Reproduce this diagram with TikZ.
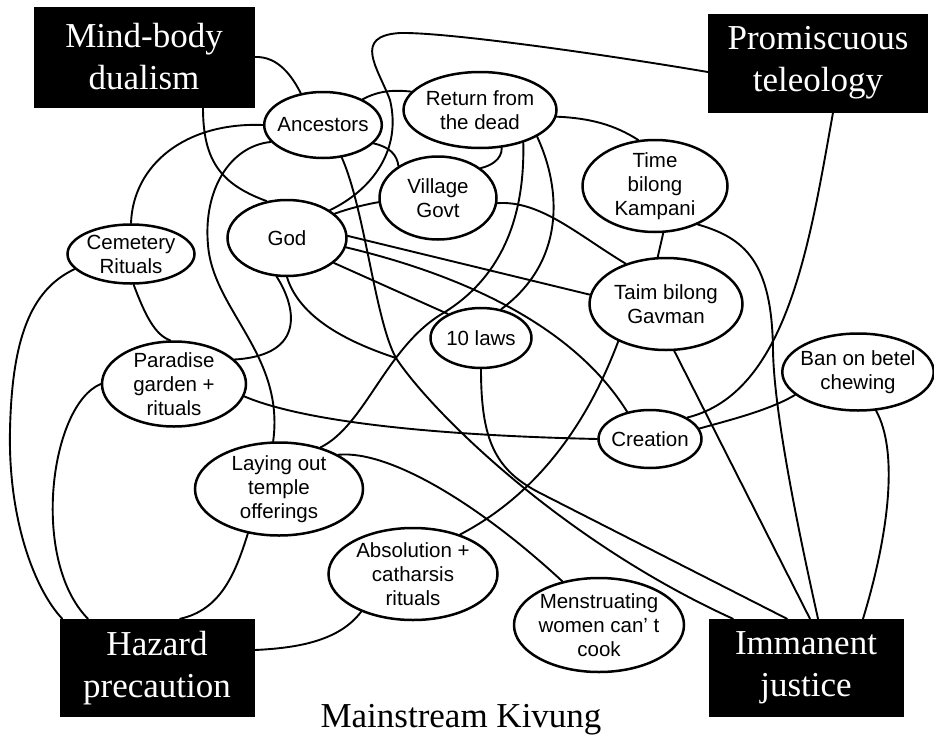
\documentclass[tikz,border=0pt]{standalone}
\usepackage{fontspec}
\setmainfont{Liberation Serif}
\setsansfont{Liberation Sans}
\usetikzlibrary{shapes.geometric}

\tikzset{
  idea/.style={draw, ellipse, line width=2.5pt, inner sep=-4pt, align=center,
    font=\sffamily\fontsize{20.5}{24}\selectfont},
  bigbox/.style={rectangle, fill=black, text=white, inner sep=0pt, align=center,
    font=\fontsize{35}{42}\selectfont},
  link/.style={line width=1.9pt, line cap=round},
}

\begin{document}
\begin{tikzpicture}[x=1pt,y=-1pt]
	\useasboundingbox (0,0) rectangle (934,736);
	% Black boxes
	\node[bigbox, minimum width=221pt, minimum height=101pt] (mind) at (144,57) {Mind-body\\dualism};
	\node[bigbox, minimum width=220pt, minimum height=99pt] (prom) at (818,63) {Promiscuous\\teleology};
	\node[bigbox, minimum width=195pt, minimum height=98pt] (haz) at (157,668) {Hazard\\precaution};
	\node[bigbox, minimum width=195pt, minimum height=98pt] (imm) at (806,668) {Immanent\\justice};
	% Ideas
	\node[idea, minimum width=106pt, minimum height=66pt] (anc) at (323,125) {Ancestors};
	\node[idea, minimum width=153pt, minimum height=76pt] (ret) at (480,110) {Return from\\the dead};
	\node[idea, minimum width=117pt, minimum height=83pt] (vil) at (438,198) {Village\\Govt};
	\node[idea, minimum width=119pt, minimum height=76pt] (god) at (287,238) {God};
	\node[idea, minimum width=145pt, minimum height=92pt] (time) at (655,186) {Time\\bilong\\Kampani};
	\node[idea, minimum width=153pt, minimum height=92pt] (taim) at (666,304) {Taim bilong\\Gavman};
	\node[idea, minimum width=127pt, minimum height=59pt] (cem) at (131,254) {Cemetery\\Rituals};
	\node[idea, minimum width=101pt, minimum height=60pt] (laws) at (481,338) {10 laws};
	\node[idea, minimum width=144pt, minimum height=85pt] (par) at (174,384) {Paradise\\garden +\\rituals};
	\node[idea, minimum width=150pt, minimum height=77pt] (ban) at (858,372) {Ban on betel\\chewing};
	\node[idea, minimum width=103pt, minimum height=58pt] (cre) at (650,439) {Creation};
	\node[idea, minimum width=168pt, minimum height=93pt] (lay) at (279,489) {Laying out\\temple\\offerings};
	\node[idea, minimum width=169pt, minimum height=92pt] (abs) at (413,574) {Absolution +\\catharsis\\rituals};
	\node[idea, minimum width=170pt, minimum height=94pt] (men) at (599,625) {Menstruating\\women can’ t\\cook};
	\node[font=\fontsize{35}{40}\selectfont, anchor=base] (title) at (461,727) {Mainstream Kivung};
	\coordinate (jn) at (396,358);
	% Mind-body dualism
	\draw[link] (mind.east) .. controls (278,56) and (292,76) .. (anc.125);
	\draw[link] ([xshift=59pt]mind.south) .. controls (203,160) and (220,184) .. (god.119);
	% Promiscuous teleology
	\draw[link] (god.33) .. controls (372,190) and (402,150) .. (390,100) .. controls (378,68) and (352,36) .. (400,33) .. controls (450,32) and (620,57) .. ([yshift=-9pt]prom.west);
	\draw[link] ([xshift=15pt]prom.south) .. controls (810,240) and (788,393) .. (cre.30);
	% Ancestors
	\draw[link] (anc.33) .. controls (380,90) and (395,90) .. (ret.165);
	\draw[link] (anc.180) .. controls (185,122) and (133,165) .. (cem.north);
	\draw[link] (anc.198) .. controls (230,146) and (203,190) .. (208,245) .. controls (213,310) and (285,355) .. (lay.97);
	\draw[link] (anc.340) .. controls (390,147) and (397,155) .. (vil.141);
	\draw[link] (anc.300) .. controls (365,210) and (375,320) .. (jn) .. controls (430,410) and (560,540) .. ([xshift=-73pt]imm.north);
	% God
	\draw[link] (god.27) .. controls (350,208) and (368,204) .. (vil.184);
	\draw[link] (god.2) -- (taim.173);
	\draw[link] (god.351) .. controls (450,272) and (570,320) .. (cre.130);
	\draw[link] (god.332) -- (laws.144);
	\draw[link] (god.255) .. controls (295,305) and (308,355) .. (par.22);
	\draw[link] (god.270) .. controls (298,312) and (335,338) .. (jn);
	% Return from the dead
	\draw[link] (ret.300) .. controls (502,160) and (490,166) .. (vil.35);
	\draw[link] (ret.323) .. controls (525,220) and (500,280) .. (440,315) .. controls (385,350) and (365,425) .. (lay.45);
	\draw[link] (ret.335) .. controls (562,190) and (565,262) .. (laws.55);
	\draw[link] (ret.355) .. controls (590,118) and (615,125) .. (time.110);
	% Village Govt
	\draw[link] (vil.355) .. controls (540,200) and (578,235) .. (taim.135);
	% Time bilong Kampani
	\draw[link] (time.280) -- (taim.100);
	\draw[link] (time.318) .. controls (745,238) and (772,262) .. (773,350) .. controls (774,420) and (805,560) .. ([xshift=12pt]imm.north);
	% Taim bilong Gavman
	\draw[link] (taim.218) .. controls (598,395) and (555,485) .. (abs.40);
	\draw[link] (taim.280) -- ([xshift=4pt]imm.north);
	% 10 laws
	\draw[link] (laws.270) .. controls (481,440) and (495,470) .. (540,493) -- ([xshift=-19pt]imm.north);
	% Ban on betel chewing
	\draw[link] (ban.200) .. controls (770,410) and (730,420) .. (cre.12);
	\draw[link] (ban.295) .. controls (898,450) and (890,530) .. ([xshift=57pt]imm.north);
	% Paradise garden
	\draw[link] (cem.275) .. controls (145,315) and (155,335) .. (par.95);
	\draw[link] (par.350) .. controls (300,420) and (420,435) .. (cre.180);
	% Hazard precaution
	\draw[link] (cem.195) .. controls (30,290) and (12,340) .. (10,430) .. controls (8,520) and (35,590) .. ([xshift=3pt]haz.north west);
	\draw[link] (par.180) .. controls (50,405) and (30,560) .. ([xshift=-69pt]haz.north);
	\draw[link] (lay.235) .. controls (235,575) and (220,610) .. ([xshift=23pt]haz.north);
	\draw[link] (abs.216) .. controls (340,640) and (300,648) .. ([yshift=18pt]haz.east);
	% Menstruating women
	\draw[link] (lay.30) .. controls (390,450) and (480,505) .. (men.130);
\end{tikzpicture}
\end{document}
